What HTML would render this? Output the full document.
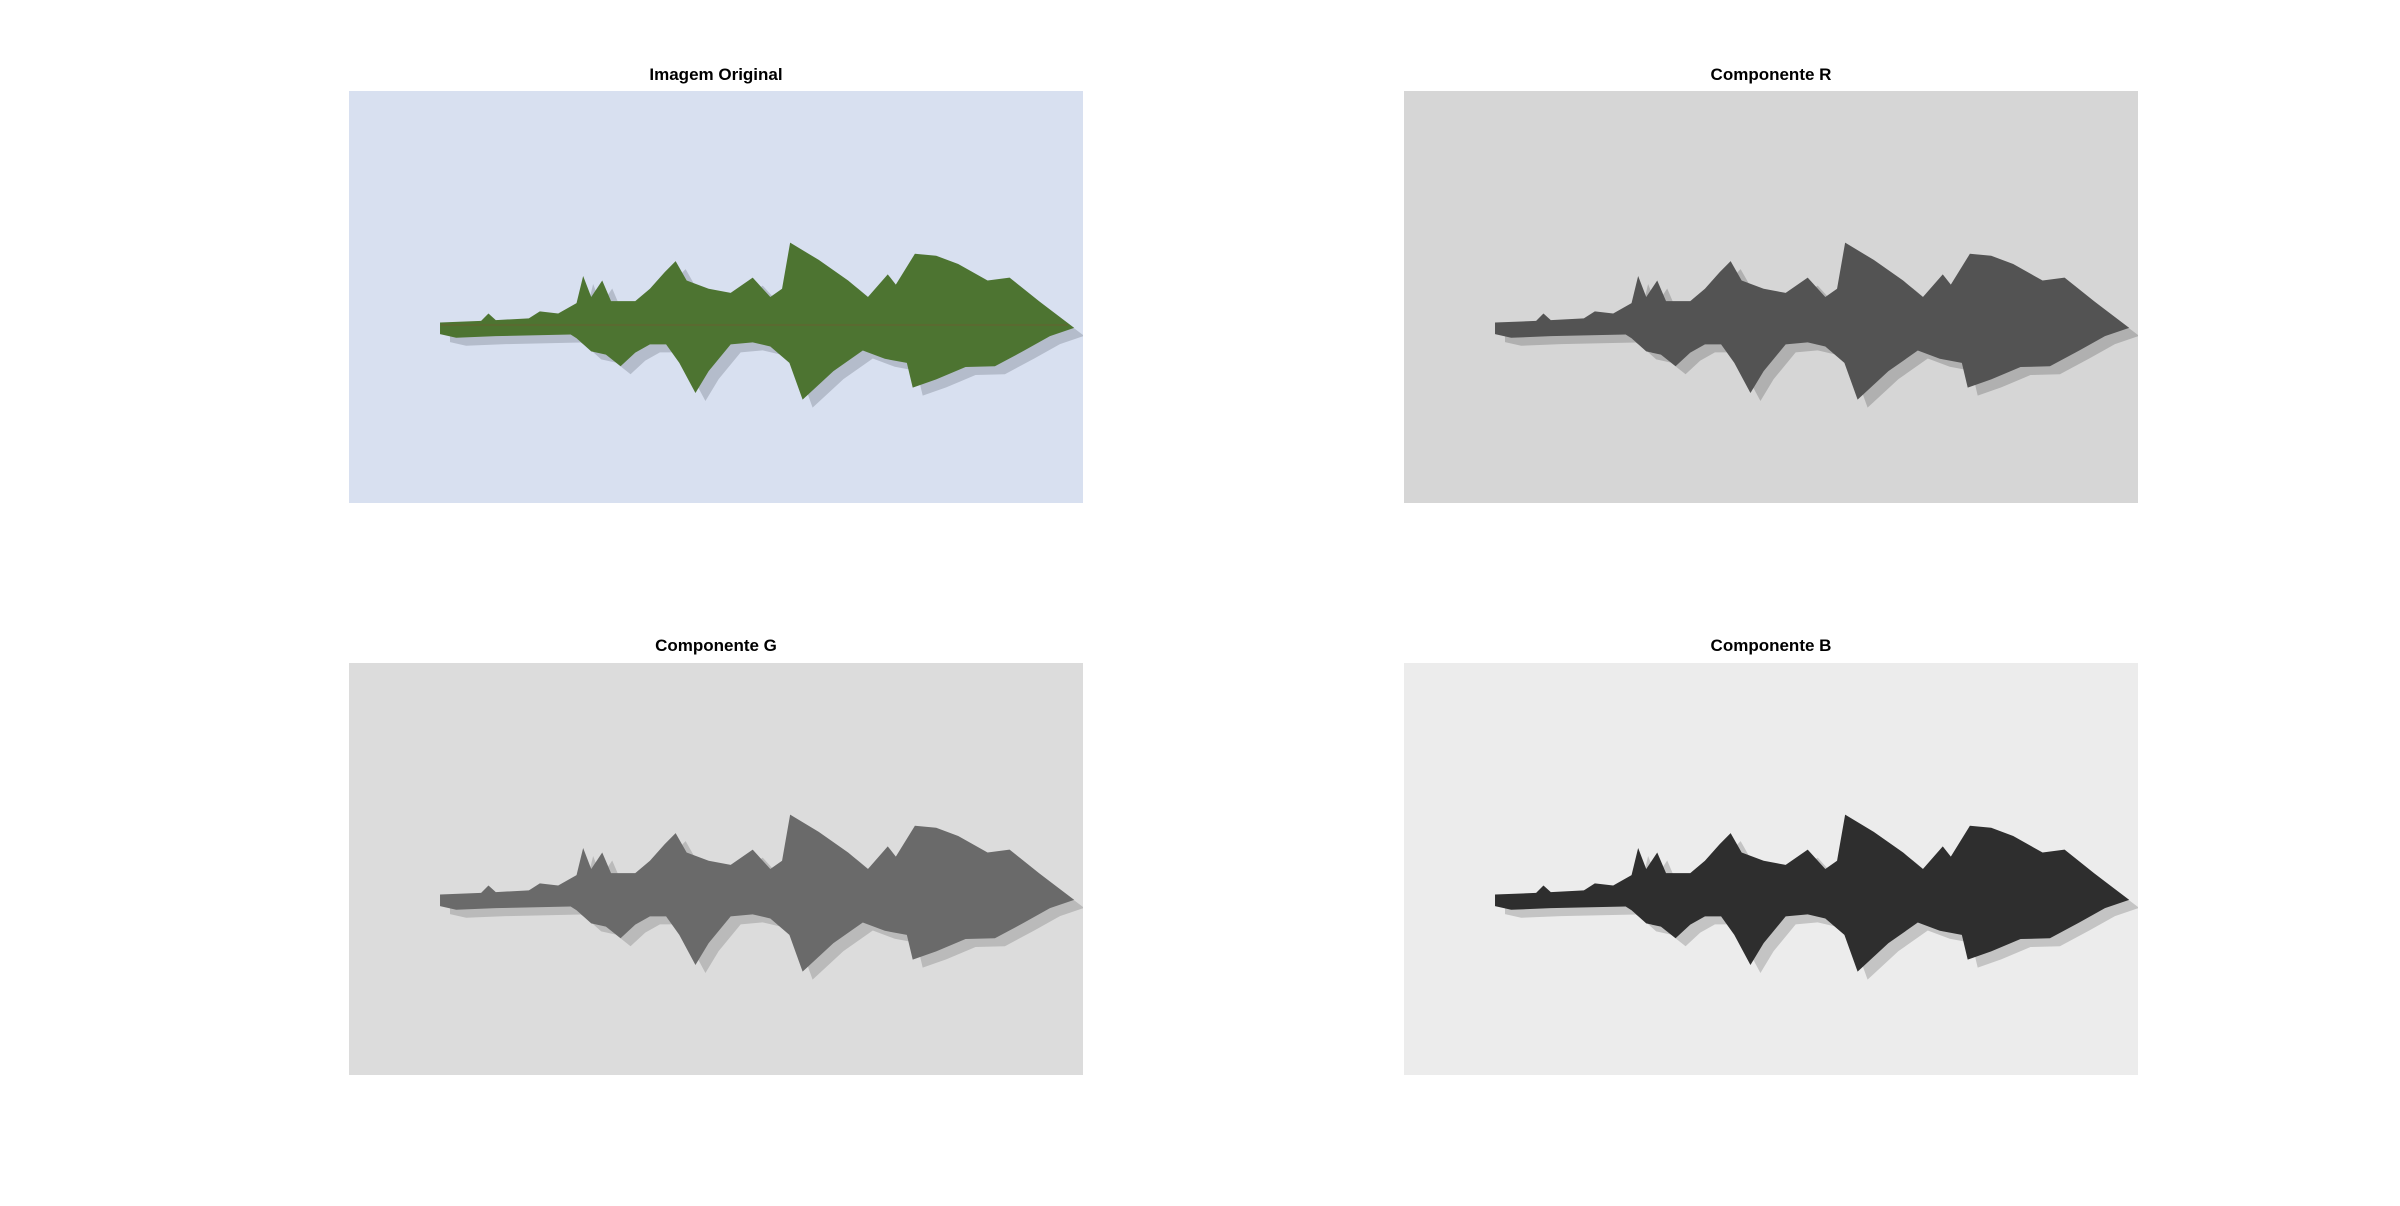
<!DOCTYPE html>
<html><head><meta charset="utf-8"><style>
html,body{margin:0;padding:0;background:#fff;}
body{width:2400px;height:1206px;position:relative;overflow:hidden;font-family:"Liberation Sans",Arial,sans-serif;}
.t{position:absolute;width:734px;text-align:center;font-weight:bold;font-size:17px;color:#000;}
svg.p{position:absolute;width:734px;height:412px;}
</style></head><body>
<svg width="0" height="0" style="position:absolute">
<defs>
<symbol id="leaf" viewBox="0 0 1 1" preserveAspectRatio="none">
<path d="M.124,.562 L.18,.558 L.19,.54 L.2,.556 L.245,.552 L.26,.535 L.285,.54 L.31,.515 L.319,.449 L.33,.5 L.345,.46 L.357,.51 L.39,.51 L.41,.48 L.43,.44 L.445,.413 L.46,.46 L.49,.48 L.52,.49 L.55,.453 L.574,.5 L.59,.48 L.601,.368 L.64,.41 L.68,.46 L.707,.5 L.734,.445 L.745,.47 L.771,.395 L.8,.4 L.83,.42 L.87,.46 L.9,.453 L.94,.51 L.988,.575 L.955,.595 L.92,.63 L.88,.668 L.84,.67 L.8,.7 L.768,.72 L.76,.66 L.73,.65 L.7,.63 L.66,.68 L.618,.749 L.6,.66 L.574,.62 L.55,.61 L.52,.615 L.49,.68 L.472,.733 L.45,.66 L.432,.615 L.41,.615 L.39,.635 L.37,.668 L.35,.64 L.33,.632 L.31,.6 L.302,.591 L.2,.595 L.146,.599 L.124,.59 Z"/>
</symbol>
</defs>
</svg>

<div class="t" style="left:349px;top:65px;">Imagem Original</div>
<svg class="p" style="left:349px;top:91px" viewBox="0 0 735 412" preserveAspectRatio="none">
<rect width="735" height="412" fill="#d8e0f0"/>
<use href="#leaf" x="10" y="8" width="735" height="412" fill="#b4bccb"/>
<use href="#leaf" x="0" y="0" width="735" height="412" fill="#4d7431"/>
<line x1="92" y1="234" x2="720" y2="234" stroke="#5a6a30" stroke-width="2"/>
</svg>

<div class="t" style="left:1404px;top:65px;">Componente R</div>
<svg class="p" style="left:1404px;top:91px" viewBox="0 0 735 412" preserveAspectRatio="none">
<rect width="735" height="412" fill="#d6d6d6"/>
<use href="#leaf" x="10" y="8" width="735" height="412" fill="#b0b0b0"/>
<use href="#leaf" x="0" y="0" width="735" height="412" fill="#535353"/>
</svg>

<div class="t" style="left:349px;top:636px;">Componente G</div>
<svg class="p" style="left:349px;top:663px" viewBox="0 0 735 412" preserveAspectRatio="none">
<rect width="735" height="412" fill="#dcdcdc"/>
<use href="#leaf" x="10" y="8" width="735" height="412" fill="#bababa"/>
<use href="#leaf" x="0" y="0" width="735" height="412" fill="#6a6a6a"/>
</svg>

<div class="t" style="left:1404px;top:636px;">Componente B</div>
<svg class="p" style="left:1404px;top:663px" viewBox="0 0 735 412" preserveAspectRatio="none">
<rect width="735" height="412" fill="#ececec"/>
<use href="#leaf" x="10" y="8" width="735" height="412" fill="#c4c4c4"/>
<use href="#leaf" x="0" y="0" width="735" height="412" fill="#2e2e2e"/>
</svg>
</body></html>
